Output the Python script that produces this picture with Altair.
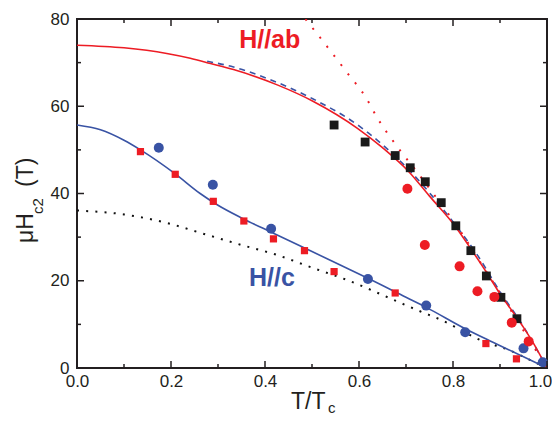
import altair as alt
import pandas as pd

# ---------------- data ----------------
# H//ab : black squares
ab_sq_x = [0.547, 0.613, 0.677, 0.709, 0.741, 0.775, 0.806, 0.838, 0.871, 0.902, 0.936]
ab_sq_y = [55.7, 51.8, 48.7, 45.9, 42.7, 37.9, 32.6, 26.9, 21.1, 16.2, 11.3]
# H//ab : red circles
ab_ci_x = [0.703, 0.740, 0.814, 0.852, 0.888, 0.925, 0.961]
ab_ci_y = [41.1, 28.2, 23.3, 17.6, 16.3, 10.4, 6.1]
# H//c : blue circles
c_ci_x = [0.174, 0.289, 0.413, 0.619, 0.743, 0.826, 0.950, 0.991]
c_ci_y = [50.5, 42.0, 31.9, 20.4, 14.3, 8.2, 4.5, 1.3]
# H//c : red squares
c_sq_x = [0.135, 0.209, 0.290, 0.355, 0.418, 0.484, 0.547, 0.677, 0.870, 0.935]
c_sq_y = [49.6, 44.4, 38.2, 33.7, 29.6, 26.9, 22.1, 17.2, 5.6, 2.1]

# curves
ab_fit_x = [0.0, 0.1, 0.191, 0.241, 0.284, 0.333, 0.426, 0.503, 0.596, 0.65, 0.706, 0.75, 0.801, 0.84, 0.872, 0.90, 0.929, 0.95, 0.971, 1.0]
ab_fit_y = [74.0, 73.4, 72.1, 71.0, 69.8, 68.4, 64.9, 61.1, 55.0, 50.5, 45.0, 39.4, 33.0, 27.0, 21.8, 17.0, 12.6, 9.3, 5.7, 0.0]
ab_dash_x = [0.277, 0.333, 0.404, 0.50, 0.60, 0.70, 0.80, 0.85, 0.90, 0.95, 1.0]
ab_dash_y = [70.3, 69.0, 66.4, 61.8, 55.5, 46.1, 33.5, 26.2, 17.5, 9.5, 0.0]
ab_dot_x = [0.486, 0.50, 0.574, 0.617, 0.638, 0.681, 0.723, 0.773, 0.81, 0.85, 0.90, 0.95, 1.0]
ab_dot_y = [80.0, 78.1, 67.8, 61.6, 57.5, 50.8, 45.0, 37.8, 32.3, 25.6, 17.2, 8.6, 0.0]
c_fit_x = [0.0, 0.05, 0.10, 0.135, 0.209, 0.262, 0.30, 0.35, 0.418, 0.50, 0.56, 0.62, 0.70, 0.743, 0.826, 0.879, 0.95, 1.0]
c_fit_y = [55.7, 54.6, 52.2, 50.0, 44.5, 40.0, 37.3, 34.4, 30.9, 26.7, 23.6, 20.5, 16.2, 13.9, 9.0, 6.2, 2.6, 0.0]
c_dot_x = [0.0, 0.1, 0.2, 0.262, 0.35, 0.426, 0.50, 0.574, 0.674, 0.73, 0.773, 0.865, 0.922, 0.957, 1.0]
c_dot_y = [36.1, 35.2, 33.0, 31.0, 28.2, 25.9, 23.0, 20.2, 15.6, 13.0, 11.1, 6.1, 4.0, 2.2, 0.0]

x_major = [0.0, 0.2, 0.4, 0.6, 0.8, 1.0]
x_minor = [0.1, 0.3, 0.5, 0.7, 0.9]
y_major = [0, 20, 40, 60, 80]
y_minor = [10, 30, 50, 70]

RED = "#ED1C24"
BLUE = "#3953A4"
DARK = "#231F20"
FONT = "Liberation Sans"
W, H = 470, 349

xs = alt.Scale(domain=[0, 1], nice=False, zero=False)
ys = alt.Scale(domain=[0, 80], nice=False, zero=False)

x_axis = alt.Axis(values=x_major, format=".1f", tickSize=0, domain=False, grid=False,
                  labelFontSize=17, labelFont=FONT, labelColor=DARK, labelPadding=5,
                  labelFlush=False, labelOverlap=False, title=None,
                  labelOffset={"condition": {"test": "datum.value >= 0.99", "value": -7}, "value": 0})
y_axis = alt.Axis(values=y_major, format="d", tickSize=0, domain=False, grid=False,
                  labelFontSize=17, labelFont=FONT, labelColor=DARK, labelPadding=8,
                  labelOverlap=False, title=None)


def df(x, y):
    return pd.DataFrame({"x": x, "y": y})


def X():
    return alt.X("x:Q", scale=xs, axis=x_axis, title=None)


def Y():
    return alt.Y("y:Q", scale=ys, axis=y_axis, title=None)


def line(x, y, color, dash=None, width=1.6):
    kw = dict(color=color, strokeWidth=width, clip=True, interpolate="monotone")
    if dash:
        kw["strokeDash"] = dash
    return alt.Chart(df(x, y)).mark_line(**kw).encode(x=X(), y=Y())


lines = [
    line(c_dot_x, c_dot_y, "#111111", [2, 7.2], 2),
    line(ab_dot_x, ab_dot_y, RED, [2, 9.5], 2),
    line(c_fit_x, c_fit_y, BLUE),
    line(ab_dash_x, ab_dash_y, BLUE, [6, 5]),
    line(ab_fit_x, ab_fit_y, RED),
]

pts = [
    alt.Chart(df(c_sq_x, c_sq_y)).mark_point(shape="square", filled=True, size=52, color=RED, opacity=1).encode(x=X(), y=Y()),
    alt.Chart(df(ab_sq_x, ab_sq_y)).mark_point(shape="square", filled=True, size=78, color="#1A1A1A", opacity=1).encode(x=X(), y=Y()),
    alt.Chart(df(c_ci_x, c_ci_y)).mark_point(shape="circle", filled=True, size=100, color=BLUE, opacity=1).encode(x=X(), y=Y()),
    alt.Chart(df(ab_ci_x, ab_ci_y)).mark_point(shape="circle", filled=True, size=100, color=RED, opacity=1).encode(x=X(), y=Y()),
]

# inward ticks
tick_layers = []
for vals, L in ((x_major, 7), (x_minor, 4)):
    d = pd.DataFrame({"x": vals})
    tick_layers.append(alt.Chart(d).mark_rule(color=DARK, strokeWidth=1.5).encode(x=X(), y=alt.value(H), y2=alt.value(H - L)))
    tick_layers.append(alt.Chart(d).mark_rule(color=DARK, strokeWidth=1.5).encode(x=X(), y=alt.value(0), y2=alt.value(L)))
for vals, L in ((y_major, 7), (y_minor, 4)):
    d = pd.DataFrame({"y": vals})
    tick_layers.append(alt.Chart(d).mark_rule(color=DARK, strokeWidth=1.5).encode(y=Y(), x=alt.value(0), x2=alt.value(L)))
    tick_layers.append(alt.Chart(d).mark_rule(color=DARK, strokeWidth=1.5).encode(y=Y(), x=alt.value(W), x2=alt.value(W - L)))

# series labels
lab_ab = alt.Chart(pd.DataFrame({"x": [0.345], "y": [73.3], "t": ["H//ab"]})).mark_text(
    align="left", baseline="alphabetic", fontSize=25, fontWeight="bold", font=FONT, color=RED
).encode(x=X(), y=Y(), text="t:N")
lab_c = alt.Chart(pd.DataFrame({"x": [0.366], "y": [18.85], "t": ["H//c"]})).mark_text(
    align="left", baseline="alphabetic", fontSize=25, fontWeight="bold", font=FONT, color=BLUE
).encode(x=X(), y=Y(), text="t:N")


# axis titles (with subscripts)
def ttl(text, x, y, size, angle=0):
    kw = dict(align="left", baseline="alphabetic", fontSize=size, font=FONT, color=DARK)
    if angle:
        kw["angle"] = angle
    return alt.Chart(pd.DataFrame({"t": [text]})).mark_text(**kw).encode(
        x=alt.value(x), y=alt.value(y), text="t:N")


titles = [
    ttl("μH", -44, 224, 23, 270),
    ttl("c2", -34, 195, 15, 270),
    ttl("(T)", -44, 168, 23, 270),
    ttl("T/T", 214, 390, 23),
    ttl("c", 251, 394, 15),
]

chart = alt.layer(*lines, *pts, *tick_layers, lab_ab, lab_c, *titles).properties(
    width=W, height=H,
    padding={"left": 69, "top": 11, "right": 5, "bottom": 47},
    autosize=alt.AutoSizeParams(type="none"),
    background="white",
).configure_view(stroke=DARK, strokeWidth=2)

chart.save("out.html", embed_options={"renderer": "svg", "actions": False})
